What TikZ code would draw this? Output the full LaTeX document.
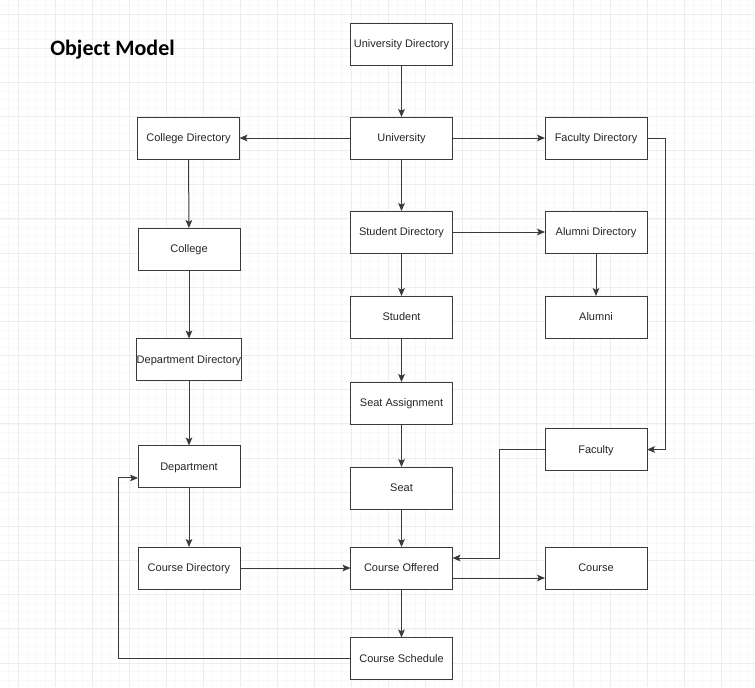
\documentclass[tikz,border=0pt]{standalone}
\usepackage{fontspec}
\setmainfont{Liberation Sans}
\newfontfamily\titlefont{Carlito}
\usetikzlibrary{arrows.meta}
\definecolor{majorgrid}{HTML}{EDEDED}
\definecolor{minorgrid}{HTML}{F8F8F8}
\definecolor{edge}{HTML}{3A3A3A}
\tikzset{
  box/.style={draw=edge, line width=0.75pt, fill=white, minimum width=76.5pt, minimum height=31.5pt, inner sep=0pt, outer sep=0pt, text height=5.9pt, text depth=0pt, font=\fontsize{8.25pt}{10pt}\selectfont, text=black!85},
  conn/.style={draw=edge, line width=0.75pt, -{Stealth[length=6pt,width=5pt,inset=1.3pt]}},
}
\begin{document}
\begin{tikzpicture}[x=0.75pt,y=-0.75pt]
\useasboundingbox (0,0) rectangle (755,687);
\fill[white] (0,0) rectangle (755,687);
% minor grid
\foreach \i in {0,...,84} {
  \draw[minorgrid, line width=0.5pt] ({8.75+9.25*\i},0) -- ({8.75+9.25*\i},687);
}
\foreach \j in {0,...,84} {
  \draw[minorgrid, line width=0.5pt] (0,{5.46+8.54*\j}) -- (755,{5.46+8.54*\j});
}
% major grid
\foreach \i in {0,...,20} {
  \draw[majorgrid, line width=0.75pt] ({18+37*\i},0) -- ({18+37*\i},687);
}
\foreach \j in {0,...,19} {
  \draw[majorgrid, line width=0.75pt] (0,{14+34.16*\j}) -- (755,{14+34.16*\j});
}
% title
\node[anchor=base west, inner sep=0pt, font=\titlefont\bfseries\fontsize{16.5pt}{20pt}\selectfont] (title) at (50,55) {Object Model};
% nodes
\node[box] (udir) at (401.5,44) {University Directory};
\node[box] (univ) at (401.5,138) {University};
\node[box] (cdir) at (188.5,138) {College Directory};
\node[box] (fdir) at (596,138) {Faculty Directory};
\node[box] (sdir) at (401.5,232) {Student Directory};
\node[box] (adir) at (596,232) {Alumni Directory};
\node[box] (coll) at (189,249) {College};
\node[box] (stud) at (401.5,317) {Student};
\node[box] (alum) at (596,317) {Alumni};
\node[box] (ddir) at (189,359.5) {Department Directory};
\node[box] (seata) at (401.5,403) {Seat Assignment};
\node[box] (dept) at (189,466.5) {Department};
\node[box] (fac) at (596,449.5) {Faculty};
\node[box] (seat) at (401.5,488) {Seat};
\node[box] (crsdir) at (189,568) {Course Directory};
\node[box] (crsoff) at (401.5,568) {Course Offered};
\node[box] (crs) at (596,568) {Course};
\node[box] (crssch) at (401.5,658.5) {Course Schedule};
% connectors
\draw[conn] (udir) -- (univ);
\draw[conn] (univ) -- (cdir);
\draw[conn] (univ) -- (fdir);
\draw[conn] (univ) -- (sdir);
\draw[conn] (sdir) -- (adir);
\draw[conn] (sdir) -- (stud);
\draw[conn] (adir) -- (alum);
\draw[conn] (cdir) -- (coll);
\draw[conn] (coll) -- (ddir);
\draw[conn] (ddir) -- (dept);
\draw[conn] (dept) -- (crsdir);
\draw[conn] (stud) -- (seata);
\draw[conn] (seata) -- (seat);
\draw[conn] (seat) -- (crsoff);
\draw[conn] (crsdir) -- (crsoff);
\draw[conn] (crsoff) -- (crssch);
\draw[conn] ([yshift=-7.5pt]crsoff.east) -- ([yshift=-7.5pt]crs.west);
\draw[conn] (fdir.east) -- ++(18,0) |- (fac.east);
\draw[conn] (fac.west) -- ++(-46,0) |- ([yshift=7.5pt]crsoff.east);
\draw[conn] (crssch.west) -- ++(-232,0) |- ([yshift=-8.6pt]dept.west);
\end{tikzpicture}
\end{document}
